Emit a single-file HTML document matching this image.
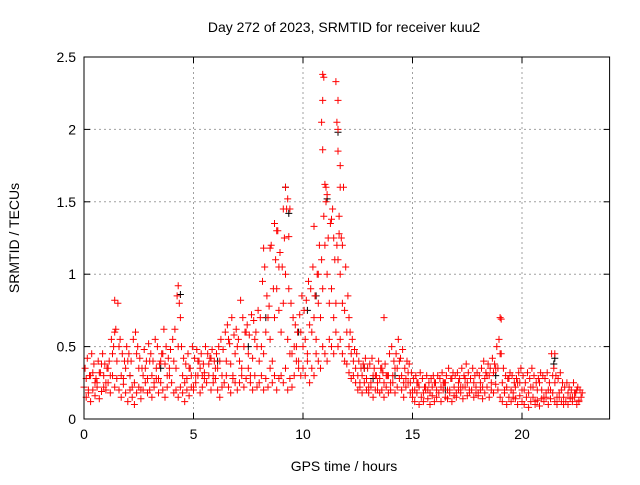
<!DOCTYPE html>
<html><head><meta charset="utf-8"><style>
body{margin:0;background:#fff;width:640px;height:480px;overflow:hidden}
svg{font-family:"Liberation Sans",sans-serif}
</style></head><body>
<svg id="chart" width="640" height="480" xmlns="http://www.w3.org/2000/svg">
<rect width="640" height="480" fill="#fff"/>
<text x="344" y="32" font-size="14" text-anchor="middle">Day 272 of 2023, SRMTID for receiver kuu2</text>
<text x="344" y="471" font-size="14" text-anchor="middle">GPS time / hours</text>
<text x="19" y="238" font-size="14" text-anchor="middle" transform="rotate(-90 19 238)">SRMTID / TECUs</text>
<g id="grid"></g><g id="marks"></g><g id="axes"></g>
</svg>
<script>
const xTicks=[0,5,10,15,20];
const yTicks=[0,0.5,1,1.5,2,2.5];
const yTickLabels=["0","0.5","1","1.5","2","2.5"];
const lowStart=0, lowStep=0.1;
const lowVals=[.22,.15,.18,.12,.2,.16,.25,.14,.19,.22,.2,.25,.18,.3,.22,.28,.2,.15,.24,.18,.12,.2,.15,.1,.18,.22,.14,.2,.25,.18,.2,.15,.22,.28,.18,.25,.2,.15,.22,.3,.25,.18,.2,.15,.22,.18,.12,.2,.16,.22,.2,.25,.3,.18,.22,.28,.25,.3,.2,.25,.28,.2,.15,.22,.25,.3,.22,.18,.28,.25,.2,.25,.3,.22,.28,.35,.25,.2,.3,.22,.25,.3,.2,.28,.22,.35,.25,.3,.2,.28,.3,.25,.35,.2,.28,.22,.3,.4,.35,.3,.35,.3,.4,.25,.35,.3,.45,.4,.35,.5,.45,.4,.55,.5,.45,.6,.5,.55,.45,.4,.38,.32,.28,.3,.25,.2,.22,.18,.25,.2,.18,.22,.15,.2,.25,.18,.2,.15,.22,.18,.2,.25,.18,.22,.28,.2,.15,.22,.25,.18,.15,.12,.18,.1,.15,.12,.2,.14,.1,.16,.12,.15,.18,.12,.2,.15,.14,.18,.12,.16,.15,.2,.18,.14,.22,.16,.18,.2,.15,.18,.16,.2,.14,.18,.22,.15,.2,.18,.24,.2,.15,.12,.18,.1,.15,.12,.18,.14,.1,.16,.12,.1,.15,.08,.12,.15,.1,.13,.09,.14,.12,.15,.1,.14,.18,.12,.1,.15,.12,.1,.12,.1,.14,.12,.15,.1,.13,.15];
const highVals=[.35,.42,.3,.45,.38,.28,.4,.32,.45,.38,.35,.4,.55,.5,.62,.8,.55,.45,.4,.5,.45,.4,.55,.6,.5,.42,.35,.48,.4,.52,.45,.4,.55,.5,.38,.45,.62,.5,.42,.48,.55,.62,.85,.8,.5,.42,.38,.45,.35,.5,.42,.48,.4,.45,.38,.5,.45,.42,.48,.4,.45,.5,.55,.48,.6,.65,.52,.7,.58,.62,.55,.82,.7,.6,.65,.58,.72,.68,.6,.75,.7,.95,1.05,.85,.78,1.2,.9,1.1,1.3,1.15,1.05,1.25,1.45,.9,.8,.7,.65,.6,.72,.85,.75,.82,.95,.9,1.05,.85,1.0,1.2,1.1,1.4,1.6,1.25,1.35,1.45,1.1,1.2,1.4,1.25,1.6,1.05,.85,.6,.55,.48,.45,.4,.35,.38,.42,.35,.38,.42,.35,.3,.4,.35,.32,.38,.3,.45,.5,.4,.45,.55,.42,.48,.35,.4,.38,.32,.28,.3,.25,.32,.28,.22,.3,.25,.28,.3,.25,.3,.28,.32,.25,.3,.35,.28,.32,.3,.32,.28,.35,.3,.38,.32,.28,.35,.3,.32,.3,.35,.4,.32,.38,.35,.42,.38,.5,.55,.45,.35,.3,.28,.32,.3,.25,.28,.32,.35,.3,.25,.32,.28,.35,.3,.25,.28,.32,.3,.28,.32,.25,.45,.35,.3,.28,.32,.25,.22,.25,.22,.2,.25,.18,.22,.2,.18];
const midStart=0.1, midStep=0.2;
const midVals=[.28,.3,.25,.32,.3,.35,.45,.4,.3,.35,.3,.25,.35,.3,.28,.3,.35,.4,.38,.35,.4,.5,.3,.28,.3,.3,.35,.32,.38,.3,.35,.3,.4,.38,.45,.4,.5,.45,.42,.5,.5,.6,.55,.7,.75,.8,.55,.45,.5,.6,.55,.65,.7,.8,.9,1.0,.9,.8,1.0,.75,.5,.4,.3,.3,.28,.25,.3,.28,.25,.3,.3,.35,.3,.28,.25,.2,.22,.18,.2,.22,.2,.22,.25,.2,.22,.25,.22,.25,.2,.22,.25,.28,.3,.32,.35,.25,.22,.2,.22,.25,.2,.18,.22,.2,.2,.18,.2,.25,.18,.15,.18,.15,.2,.15];
const mid2Start=0.2, mid2Step=0.2;
const mid2Vals=[.2,.32,.22,.38,.25,.3,.6,.5,.28,.4,.22,.45,.2,.35,.4,.25,.28,.45,.3,.25,.35,.7,.25,.35,.22,.4,.3,.25,.42,.35,.4,.25,.55,.3,.5,.35,.6,.3,.55,.4,.45,.7,.4,.9,.6,1.0,.45,.5,.4,.5,.45,.6,.55,.7,1.2,.8,.7,1.1,.8,.6,.45,.35,.25,.35,.22,.3,.2,.35,.3,.25,.35,.4,.25,.32,.2,.25,.15,.22,.18,.25,.18,.25,.2,.28,.18,.22,.28,.2,.25,.18,.22,.3,.25,.35,.45,.2,.28,.15,.25,.2,.15,.22,.12,.25,.15,.2,.3,.15,.2,.12,.15,.18,.12];
const peakT=[10.9,10.95,10.9,10.85,10.9,11.0,11.5,11.6,11.55,11.6,11.6,11.7,11.7,9.2,9.3,9.4,8.7,8.8,11.1,11.05,11.3,19.0,19.05,21.5,4.3,1.4,10.5,11.8,12.1,13.7,9.1,8.5,8.2,10.7,11.4,11.65,9.35,8.9];
const peakV=[2.38,2.36,2.2,2.05,1.86,1.62,2.33,2.2,2.05,2.0,1.85,1.75,1.6,1.6,1.52,1.45,1.35,1.3,1.55,1.5,1.38,0.7,0.69,0.45,0.92,0.82,1.33,1.2,0.7,0.7,1.45,1.18,1.18,1.0,1.25,1.28,1.26,1.05];
const blackT=[9.2,9.35,11.6,11.1,10.6,9.8,8.3,4.4,12.8,14.2,21.5,21.45,2.1,6.1,7.5,10.2,13.2,16.5,3.5,18.8];
const blackV=[1.6,1.42,1.98,1.52,0.85,0.6,0.7,0.86,0.35,0.3,0.42,0.38,0.3,0.4,0.5,0.75,0.28,0.2,0.35,0.3];

const L=84,R=609.6,T=57,B=419,XMAX=24,YMAX=2.5;
const xs=v=>L+(R-L)*v/XMAX, ys=v=>B-(B-T)*v/YMAX;
const NS="http://www.w3.org/2000/svg";
const grid=document.getElementById('grid'),marks=document.getElementById('marks'),axes=document.getElementById('axes');
function el(tag,attrs,parent){const e=document.createElementNS(NS,tag);for(const k in attrs)e.setAttribute(k,attrs[k]);parent.appendChild(e);return e;}
xTicks.forEach(v=>{const x=xs(v);
 if(v>0){const g=el('line',{x1:x,x2:x,y1:T,y2:B,stroke:'#a0a0a0','stroke-dasharray':'2,3'},grid);
 
 }
 el('line',{x1:x,x2:x,y1:B,y2:B-6,stroke:'#000'},axes);el('line',{x1:x,x2:x,y1:T,y2:T+6,stroke:'#000'},axes);
 const t=el('text',{x:x,y:B+20,'font-size':14,'text-anchor':'middle'},axes);t.textContent=v;
 
 });
yTicks.forEach((v,i)=>{const y=ys(v);
 if(v>0&&v<YMAX){const g=el('line',{x1:L,x2:R,y1:y,y2:y,stroke:'#a0a0a0','stroke-dasharray':'2,3'},grid);
 
 }
 el('line',{x1:L,x2:L+6,y1:y,y2:y,stroke:'#000'},axes);el('line',{x1:R,x2:R-6,y1:y,y2:y,stroke:'#000'},axes);
 const t=el('text',{x:L-8,y:y+5,'font-size':14,'text-anchor':'end'},axes);t.textContent=yTickLabels[i];
 
 });
const frame=el('rect',{x:L,y:T,width:R-L,height:B-T,fill:'none',stroke:'#000'},axes);


let dRed='',dBlack='';
const plus=(t,v)=>{const x=xs(t).toFixed(1),y=ys(v).toFixed(1);return `M${x-3.5} ${y}h7M${x} ${y-3.5}v7`;};
lowVals.forEach((v,i)=>dRed+=plus(lowStart+i*lowStep,v));
highVals.forEach((v,i)=>dRed+=plus(lowStart+i*lowStep+0.05,v));
midVals.forEach((v,i)=>dRed+=plus(midStart+i*midStep,v));
mid2Vals.forEach((v,i)=>dRed+=plus(mid2Start+i*mid2Step,v));
peakV.forEach((v,i)=>dRed+=plus(peakT[i],v));
blackV.forEach((v,i)=>dBlack+=plus(blackT[i],v));
const pb=el('path',{d:dBlack,stroke:'#000','stroke-width':1,fill:'none'},marks);


const pr=el('path',{d:dRed,stroke:'#ff0000','stroke-width':1,fill:'none'},marks);


</script>
</body></html>
